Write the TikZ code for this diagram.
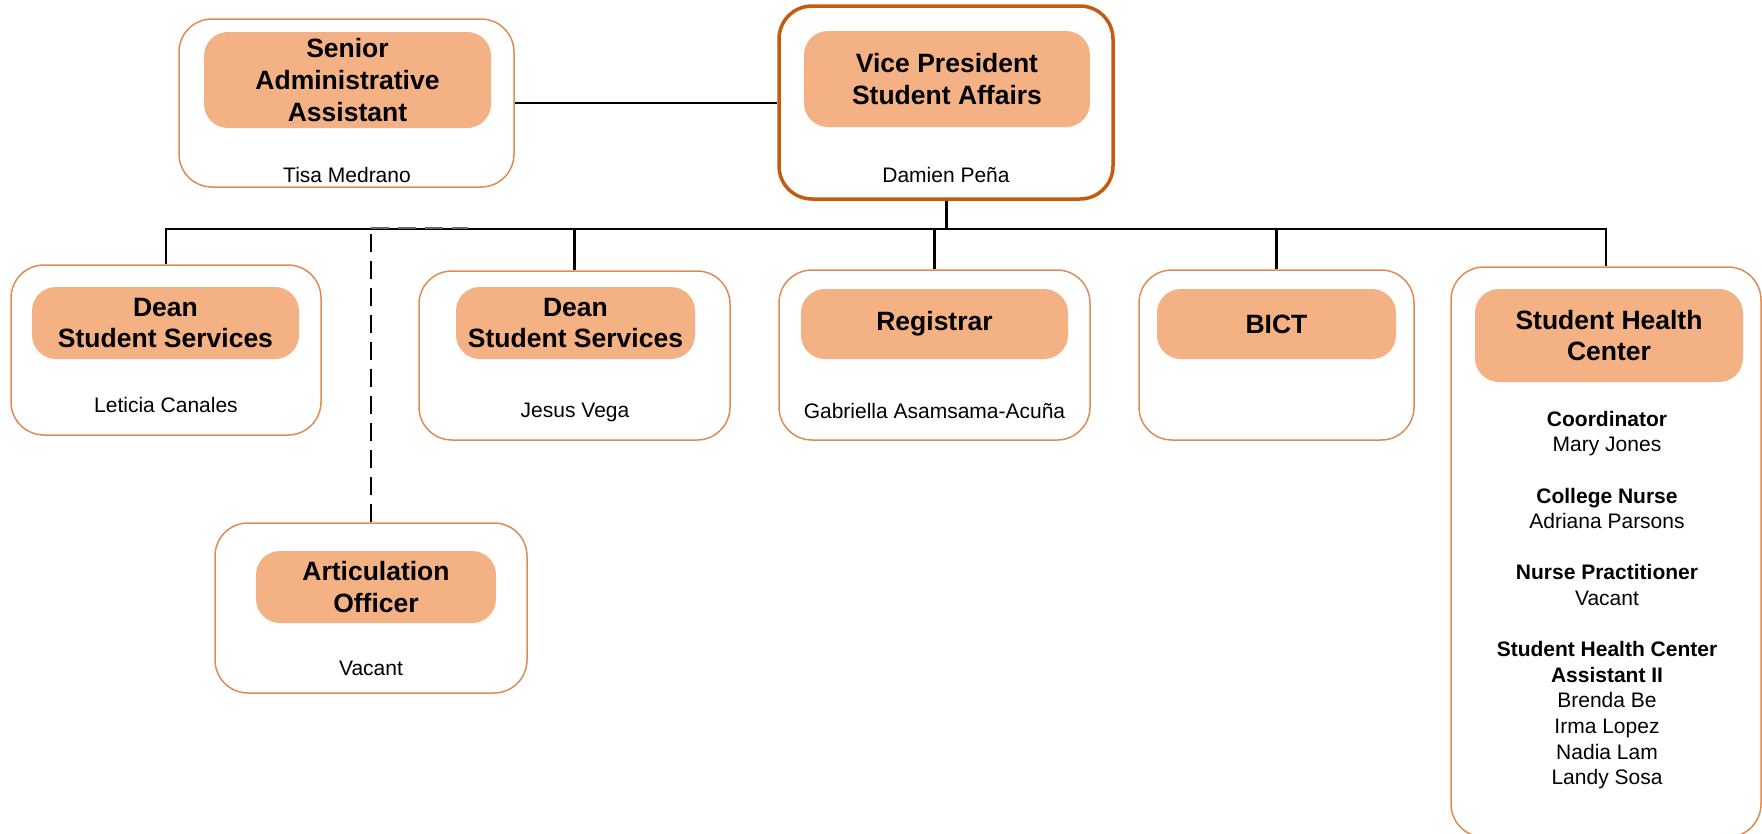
\documentclass[tikz,border=0pt]{standalone}
\usepackage{fontspec}
\setmainfont{Liberation Sans}
\definecolor{fillor}{HTML}{F4B183}
\definecolor{bordor}{HTML}{DE8C56}
\definecolor{vpor}{HTML}{C55A11}
\begin{document}
\begin{tikzpicture}[x=1pt,y=-1pt,
  outerbox/.style={draw=bordor, line width=1.5pt, rounded corners=33pt, fill=white, inner sep=0pt},
  vpbox/.style={outerbox, draw=vpor, line width=3.5pt},
  titlebox/.style={fill=fillor, rounded corners=24pt, inner sep=0pt, align=center,
    font=\fontsize{26.5}{31.7}\selectfont\bfseries},
  nametext/.style={font=\fontsize{21}{25.5}\selectfont, inner sep=0pt, anchor=base},
  conn/.style={line width=2.8pt, black},
  dashline/.style={line width=2.5pt, black, dash pattern=on 18pt off 9pt}]
\useasboundingbox (0,0) rectangle (1762,833);

% outer boxes
\node[outerbox, minimum width=335pt, minimum height=168pt] (senior) at (346.5,103) {};
\node[vpbox, minimum width=334pt, minimum height=193pt] (vp) at (946,102.5) {};
\node[outerbox, minimum width=310pt, minimum height=170pt] (dean1) at (166,350) {};
\node[outerbox, minimum width=311pt, minimum height=169pt] (dean2) at (574.5,355.5) {};
\node[outerbox, minimum width=311pt, minimum height=170pt] (reg) at (934.5,355) {};
\node[outerbox, minimum width=275pt, minimum height=170pt] (bict) at (1276.5,355) {};
\node[outerbox, minimum width=310pt, minimum height=570pt] (shc) at (1606,552) {};
\node[outerbox, minimum width=312pt, minimum height=170pt] (art) at (371,608) {};

% title boxes
\node[titlebox, minimum width=287pt, minimum height=96pt] (seniorT) at (347.5,80) {Senior\\Administrative\\Assistant};
\node[titlebox, minimum width=286pt, minimum height=96pt] (vpT) at (947,79) {Vice President\\Student Affairs};
\node[titlebox, minimum width=267pt, minimum height=72pt] (dean1T) at (165.5,323) {Dean\\Student Services};
\node[titlebox, minimum width=239pt, minimum height=72pt] (dean2T) at (575.5,323) {Dean\\Student Services};
\node[titlebox, minimum width=267pt, minimum height=70pt] (regT) at (934.5,324) {Registrar};
\node[titlebox, minimum width=239pt, minimum height=70pt] (bictT) at (1276.5,324) {BICT};
\node[titlebox, minimum width=268pt, minimum height=93pt] (shcT) at (1609,335.5) {Student Health\\Center};
\node[titlebox, minimum width=240pt, minimum height=72pt] (artT) at (376,587) {Articulation\\Officer};

% names
\node[nametext] (seniorN) at (347,182.5) {Tisa Medrano};
\node[nametext] (vpN) at (946,182.5) {Damien Peña};
\node[nametext] (dean1N) at (166,412.5) {Leticia Canales};
\node[nametext] (dean2N) at (575,417.5) {Jesus Vega};
\node[nametext] (regN) at (934.5,418.5) {Gabriella Asamsama-Acuña};
\node[nametext] (artN) at (371,675.5) {Vacant};
\node[font=\fontsize{21}{25.6}\selectfont, inner sep=0pt, align=center] (shcN) at (1607,600)
  {\textbf{Coordinator}\\Mary Jones\\[25.6pt]
   \textbf{College Nurse}\\Adriana Parsons\\[25.6pt]
   \textbf{Nurse Practitioner}\\Vacant\\[25.6pt]
   \textbf{Student Health Center}\\\textbf{Assistant II}\\Brenda Be\\Irma Lopez\\Nadia Lam\\Landy Sosa};

% connectors
\coordinate (busy) at (0,229);
\coordinate (dashend) at (468,228);
\draw[conn] (senior.east) -- (senior.east -| vp.west);
\draw[conn, line width=3pt] (vp.south) -- (vp.south |- busy);
\draw[conn] (dean1.north) |- (shc.north |- busy) -- (shc.north);
\draw[conn] (dean2.north) -- (dean2.north |- busy);
\draw[conn] (reg.north) -- (reg.north |- busy);
\draw[conn] (bict.north) -- (bict.north |- busy);
\draw[dashline] (art.north) -- (art.north |- busy);
\draw[dashline, black!60] (art.north |- dashend) -- (dashend);
\end{tikzpicture}
\end{document}
